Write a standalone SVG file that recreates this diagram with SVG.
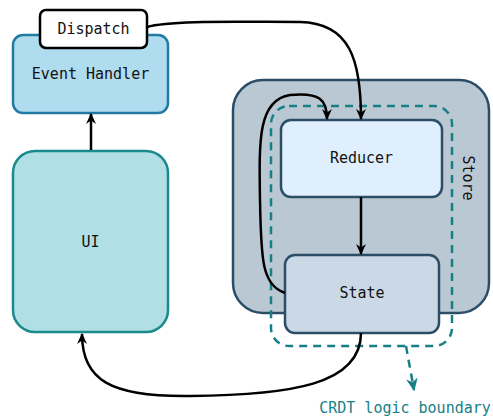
<svg xmlns="http://www.w3.org/2000/svg" width="493" height="420" viewBox="0 0 493 420">
  <defs>
    <marker id="arrow" viewBox="0 0 10 10" refX="9" refY="5" markerWidth="11" markerHeight="11" orient="auto" markerUnits="userSpaceOnUse">
      <path d="M0,0.5 L10,5 L0,9.5 L3,5 z" fill="#000"/>
    </marker>
    <marker id="arrowTeal" viewBox="0 0 10 10" refX="9" refY="5" markerWidth="13" markerHeight="13" orient="auto" markerUnits="userSpaceOnUse">
      <path d="M0,0.5 L10,5 L0,9.5 L3,5 z" fill="#178087"/>
    </marker>
    <style>
      text { font-family: "DejaVu Sans Mono", "Liberation Mono", monospace; font-size: 15px; fill: #111; }
      .node { stroke-width: 2.5; }
      .edge { fill: none; stroke: #000; stroke-width: 2.5; }
    </style>
  </defs>
  <rect width="493" height="420" fill="#fff"/>

  <!-- Store container -->
  <g id="store">
    <rect x="233" y="80" width="256" height="233" rx="30" fill="#bac8d3" stroke="#2c4d66" stroke-width="2.5"/>
    <text x="463" y="178" text-anchor="middle" transform="rotate(90 463 178)">Store</text>
  </g>

  <!-- CRDT logic boundary -->
  <g id="crdt-boundary">
    <rect x="271" y="106" width="181" height="240" rx="18" fill="none" stroke="#178087" stroke-width="2.5" stroke-dasharray="8,6"/>
    <text x="405" y="413" text-anchor="middle" style="fill:#178087">CRDT logic boundary</text>
  </g>

  <g id="event-handler">
    <rect class="node" x="13" y="35" width="155" height="78" rx="10" fill="#b0dcef" stroke="#217aa1"/>
    <text x="90.5" y="79" text-anchor="middle">Event Handler</text>
  </g>

  <g id="dispatch">
    <rect class="node" x="40" y="10" width="107" height="38" rx="6" fill="#fff" stroke="#000"/>
    <text x="93.5" y="34" text-anchor="middle">Dispatch</text>
  </g>

  <g id="ui">
    <rect class="node" x="13" y="151" width="155" height="181" rx="22" fill="#b0e0e5" stroke="#1a8a8f"/>
    <text x="90.5" y="247" text-anchor="middle">UI</text>
  </g>

  <g id="reducer">
    <rect class="node" x="281" y="120" width="161" height="77" rx="10" fill="#dfeffd" stroke="#2c4d66"/>
    <text x="361.5" y="163" text-anchor="middle">Reducer</text>
  </g>

  <g id="state">
    <rect class="node" x="285" y="255" width="154" height="78" rx="10" fill="#cbd9e7" stroke="#2c4d66"/>
    <text x="362" y="298" text-anchor="middle">State</text>
  </g>

  <!-- Connectors -->
  <g id="connectors">
    <path class="edge" d="M91,150 L91,114" marker-end="url(#arrow)"/>
    <path class="edge" d="M147,27 C170,20 240,22 300,22 C350,23 361,60 361,119" marker-end="url(#arrow)"/>
    <path class="edge" d="M361,197 L361,254" marker-end="url(#arrow)"/>
    <path class="edge" d="M285,293 C262,285 261,260 260,200 C259,140 258,100 290,95 C320,92 327,100 327,119" marker-end="url(#arrow)"/>
    <path class="edge" d="M361,333 C361,385 290,395 190,396 C110,397 82,380 82,334" marker-end="url(#arrow)"/>
    <path d="M406,346 L414,390" fill="none" stroke="#178087" stroke-width="2.5" stroke-dasharray="8,6" marker-end="url(#arrowTeal)"/>
  </g>
</svg>
